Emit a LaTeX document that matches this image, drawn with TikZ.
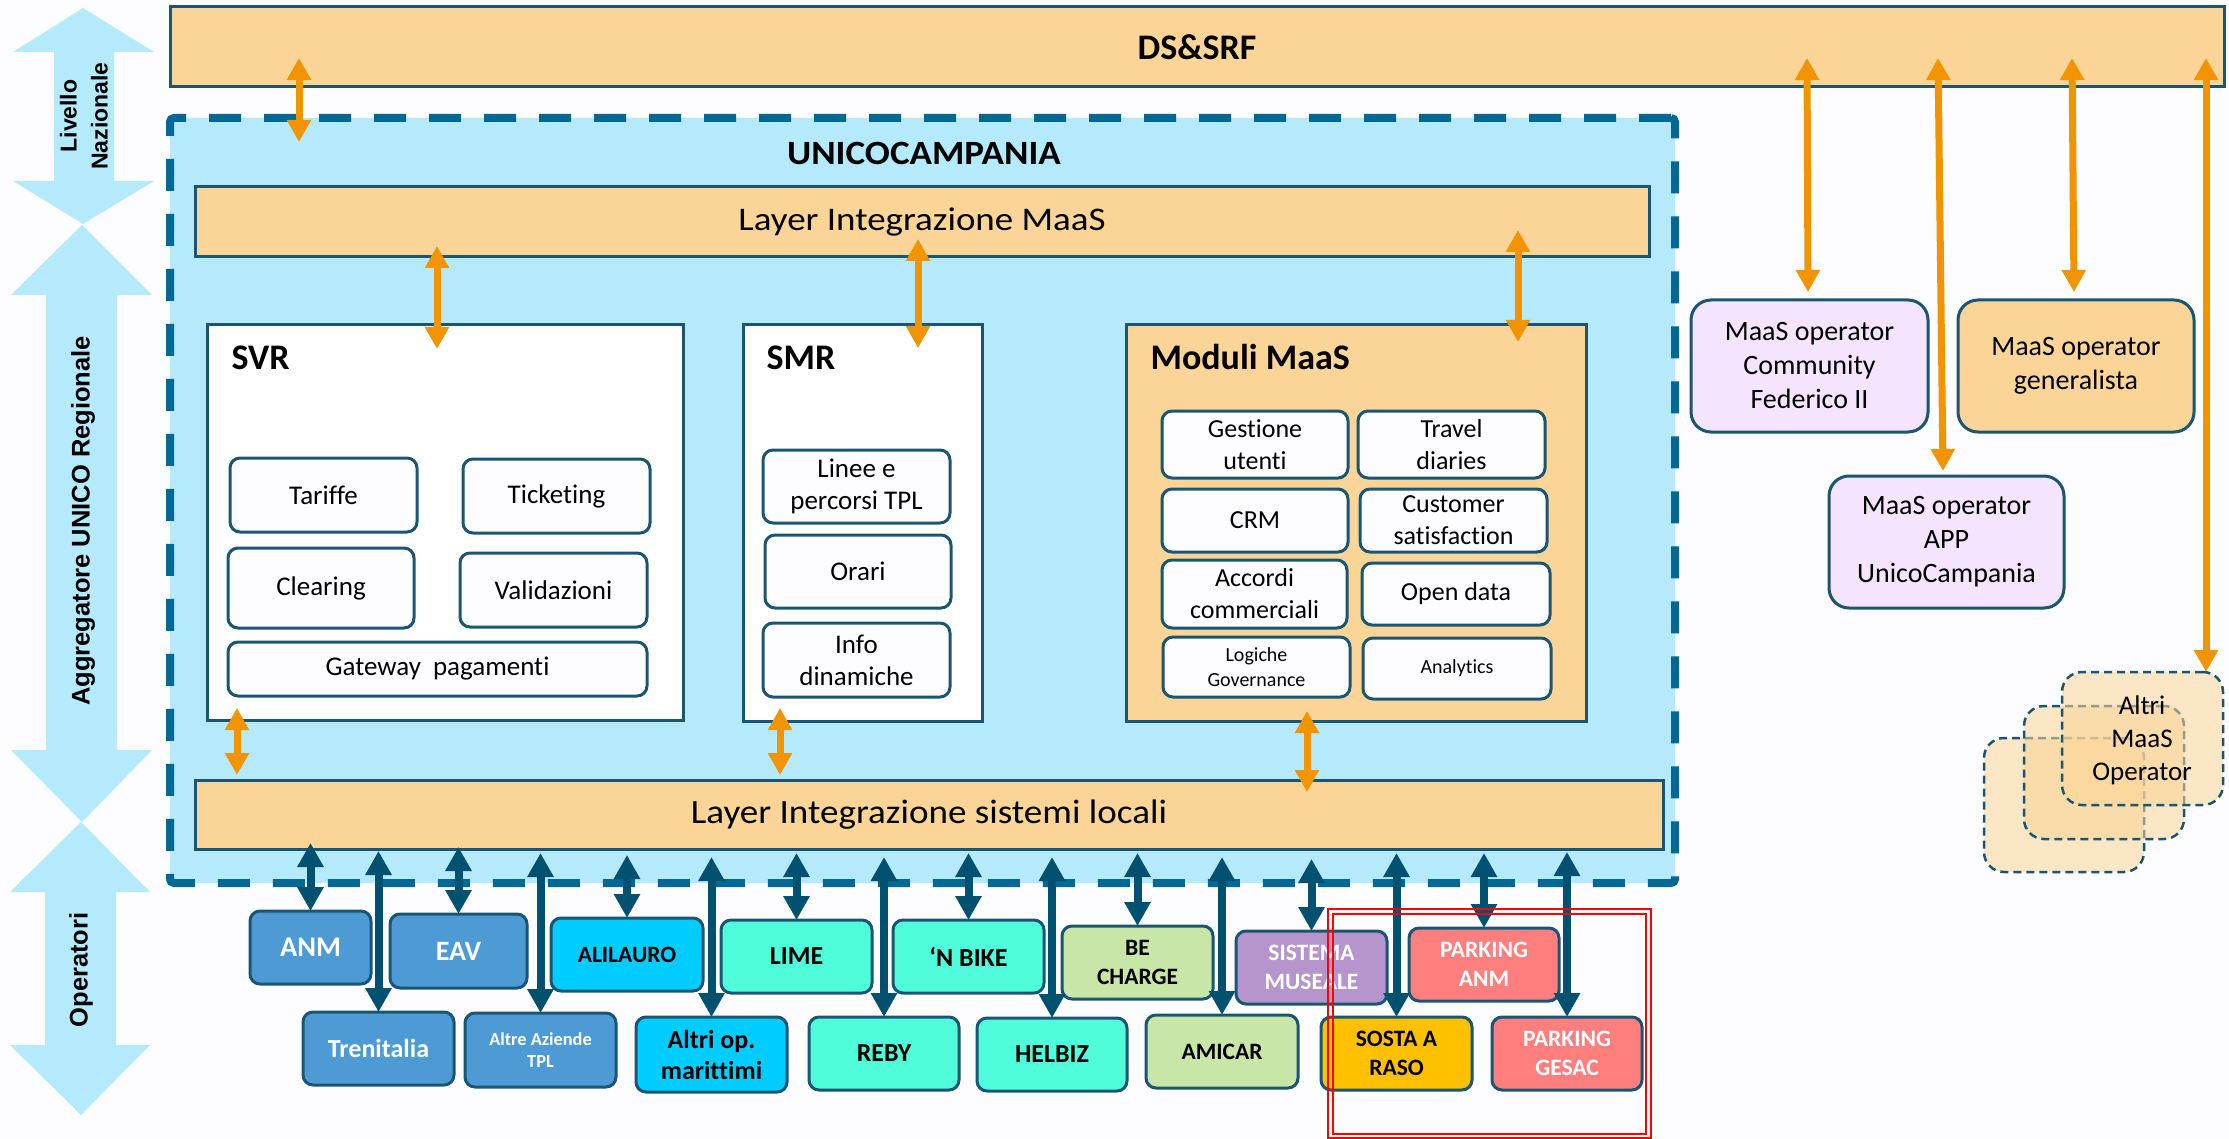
\documentclass[tikz,border=0pt]{standalone}
\usepackage{fontspec}
\setmainfont{Carlito}[RawFeature={-liga;-dlig;-clig}]
\newfontfamily\sidefont{Liberation Sans}
\usetikzlibrary{arrows.meta,calc}
\definecolor{bgc}{RGB}{253,252,255}
\definecolor{lblue}{RGB}{181,233,252}
\definecolor{beige}{RGB}{250,213,151}
\definecolor{bord}{RGB}{26,86,115}
\definecolor{dashc}{RGB}{0,104,146}
\definecolor{orng}{RGB}{242,148,0}
\definecolor{dblue}{RGB}{0,80,112}
\definecolor{opblue}{RGB}{78,154,212}
\definecolor{cyanop}{RGB}{0,204,255}
\definecolor{aqua}{RGB}{80,253,218}
\definecolor{lgreen}{RGB}{200,230,168}
\definecolor{lilac}{RGB}{181,149,204}
\definecolor{gold}{RGB}{255,192,0}
\definecolor{salmon}{RGB}{255,127,127}
\definecolor{lav}{RGB}{245,228,253}
\definecolor{boxw}{RGB}{253,252,255}
\newcommand\fs[2]{\fontsize{#1pt}{#2pt}\selectfont}
% name x1 y1 x2 y2 style text
\newcommand\bx[7]{%
  \pgfmathsetmacro\bxcx{(#2+#4)/2}%
  \pgfmathsetmacro\bxcy{(#3+#5)/2}%
  \pgfmathsetmacro\bxw{#4-#2}%
  \pgfmathsetmacro\bxh{#5-#3}%
  \node[#6, outer sep=0pt, minimum width=\bxw pt, minimum height=\bxh pt] (#1) at (\bxcx,\bxcy) {#7};}
% style x1 anchor1 dy1 x2 anchor2 dy2
\newcommand\vl[7]{\draw[#1] ($(#3 -| #2,0)+(0,#4)$) -- ($(#6 -| #5,0)+(0,#7)$);}
\tikzset{
  layerbox/.style={draw=bord, line width=3pt, fill=beige, inner sep=0pt, align=center},
  sysbox/.style={draw=bord, line width=3pt, fill=white, inner sep=0pt},
  modbox/.style={draw=bord, line width=3pt, fill=beige, inner sep=0pt},
  container/.style={draw=dashc, line width=8pt, dash pattern=on 32pt off 23pt, fill=lblue, rounded corners=4pt, inner sep=0pt},
  inbox/.style={draw=bord, line width=3pt, fill=boxw, rounded corners=10pt, inner sep=0pt, align=center, font=\fs{27}{32}},
  minbox/.style={inbox, font=\fs{26}{32}},
  sminbox/.style={inbox, font=\fs{20}{25}},
  opbox/.style={draw=bord, line width=3pt, rounded corners=10pt, inner sep=0pt, align=center, font=\bfseries\fs{23.5}{29}},
  maasop/.style={draw=bord, line width=3pt, rounded corners=20pt, inner sep=0pt, align=center, font=\fs{28}{34}},
  altribox/.style={draw=bord, line width=2.5pt, dash pattern=on 8pt off 5pt, rounded corners=20pt, fill=beige, fill opacity=0.55, draw opacity=1, inner sep=0pt},
  oarr/.style={orng, line width=7pt, {Triangle[width=23pt,length=22pt]}-{Triangle[width=23pt,length=22pt]}},
  barr/.style={dblue, line width=8pt, {Triangle[width=25pt,length=24pt]}-{Triangle[width=25pt,length=24pt]}},
  sidearrow/.style={fill=lblue, draw=none},
  sidelabel/.style={rotate=90, text=black, align=center},
  titletext/.style={anchor=base west, font=\bfseries\fs{36}{40}},
  redframe/.style={draw=red, line width=2pt}
}
\begin{document}
\begin{tikzpicture}[x=1pt, y=-1pt]
\useasboundingbox (0,0) rectangle (2229,1139);
\fill[bgc] (0,0) rectangle (2229,1139);

% side level arrows
\fill[sidearrow] (83,8) -- (154,52) -- (114,52) -- (114,181) -- (154,181) -- (83,224) -- (13,181) -- (54,181) -- (54,52) -- (13,52) -- cycle;
\fill[sidearrow] (82,225) -- (152,295) -- (117,295) -- (117,750) -- (152,750) -- (82,822) -- (11,750) -- (46,750) -- (46,295) -- (11,295) -- cycle;
\fill[sidearrow] (81,822) -- (150,892) -- (116,892) -- (116,1045) -- (150,1045) -- (81,1115) -- (10,1045) -- (45,1045) -- (45,892) -- (10,892) -- cycle;
\node[sidelabel, font=\sidefont\bfseries\fs{23}{31}] (livt) at (84,116) {Livello\\Nazionale};
\node[sidelabel, font=\sidefont\bfseries\fs{25.5}{30}] (aggt) at (83,521) {Aggregatore UNICO Regionale};
\node[sidelabel, font=\sidefont\bfseries\fs{25.5}{30}] (opt) at (81,970) {Operatori};

% national level
\bx{dssrf}{170}{7}{2224}{87}{layerbox, font=\bfseries\fs{36}{40}}{DS\&SRF}

% regional container
\bx{ucbox}{170}{118}{1675}{883}{container}{}
\node[font=\bfseries\fs{34}{40}] (uctitle) at (924,153) {\scalebox{1.09}[1]{UNICOCAMPANIA}};
\bx{layerM}{195}{187}{1649}{257}{layerbox, font=\fs{33}{40}}{\scalebox{1.12}[1]{Layer Integrazione MaaS}}
\bx{layerL}{195}{780}{1663}{849}{layerbox, font=\fs{34}{40}}{\scalebox{1.09}[1]{Layer Integrazione sistemi locali}}

% SVR
\bx{svr}{207}{325}{683}{720}{sysbox}{}
\node[titletext] (svrt) at (228,370) {SVR};
\bx{tariffe}{230}{458}{417}{532}{inbox}{Tariffe}
\bx{ticketing}{463}{459}{650}{533}{inbox}{Ticketing}
\bx{clearing}{228}{548}{414}{628}{inbox}{Clearing}
\bx{validazioni}{460}{553}{647}{627}{inbox}{Validazioni}
\bx{gateway}{228}{642}{647}{696}{inbox}{Gateway\hspace{12pt}pagamenti}

% SMR
\bx{smr}{743}{325}{982}{721}{sysbox}{}
\node[titletext] (smrt) at (763,370) {SMR};
\bx{linee}{763}{450}{950}{523}{inbox}{Linee e\\percorsi TPL}
\bx{orari}{765}{535}{951}{608}{inbox}{Orari}
\bx{info}{763}{623}{950}{697}{inbox}{Info\\dinamiche}

% Moduli MaaS
\bx{moduli}{1126}{325}{1586}{721}{modbox}{}
\node[titletext] (modt) at (1147,370) {Moduli MaaS};
\bx{gestione}{1162}{411}{1348}{478}{minbox}{Gestione\\utenti}
\bx{travel}{1358}{411}{1545}{478}{minbox}{Travel\\diaries}
\bx{crm}{1162}{489}{1348}{552}{minbox}{CRM}
\bx{customer}{1360}{489}{1547}{552}{minbox}{Customer\\satisfaction}
\bx{accordi}{1162}{560}{1347}{628}{minbox}{Accordi\\commerciali}
\bx{opendata}{1362}{563}{1550}{625}{minbox}{Open data}
\bx{logiche}{1163}{637}{1350}{697}{sminbox}{Logiche\\Governance}
\bx{analytics}{1363}{638}{1551}{699}{sminbox}{Analytics}

% MaaS operators (right)
\bx{fed}{1691}{300}{1928}{432}{maasop, fill=lav}{MaaS operator\\Community\\Federico II}
\bx{gen}{1958}{300}{2194}{432}{maasop, fill=beige}{MaaS operator\\generalista}
\bx{app}{1829}{476}{2064}{608}{maasop, fill=lav}{MaaS operator\\APP\\UnicoCampania}
\bx{altriC}{1984}{738}{2144}{872}{altribox}{}
\bx{altriB}{2024}{706}{2184}{839}{altribox}{}
\bx{altriA}{2062}{672}{2223}{805}{altribox}{}
\node[font=\fs{27}{33}, align=center] (altrit) at (2142,740) {Altri\\MaaS\\Operator};

% operators
\bx{anm}{250}{911}{371}{984}{opbox, fill=opblue, text=white, font=\bfseries\fs{28.5}{32}}{ANM}
\bx{tren}{303}{1012}{454}{1085}{opbox, fill=opblue, text=white, font=\bfseries\fs{26}{30}}{Trenitalia}
\bx{eav}{390}{914}{527}{988}{opbox, fill=opblue, text=white, font=\bfseries\fs{28}{32}}{EAV}
\bx{altre}{465}{1013}{616}{1087}{opbox, fill=opblue, text=white, font=\bfseries\fs{18.3}{22}}{Altre Aziende\\TPL}
\bx{alilauro}{551}{918}{703}{991}{opbox, fill=cyanop}{ALILAURO}
\bx{altriop}{636}{1017}{787}{1092}{opbox, fill=cyanop, font=\bfseries\fs{26}{31}}{Altri op.\\marittimi}
\bx{lime}{721}{920}{872}{993}{opbox, fill=aqua, font=\bfseries\fs{26}{30}}{LIME}
\bx{reby}{809}{1017}{959}{1090}{opbox, fill=aqua, font=\bfseries\fs{26}{30}}{REBY}
\bx{nbike}{893}{920}{1044}{993}{opbox, fill=aqua, font=\bfseries\fs{26}{30}}{‘N BIKE}
\bx{helbiz}{977}{1018}{1127}{1091}{opbox, fill=aqua, font=\bfseries\fs{26}{30}}{HELBIZ}
\bx{becharge}{1062}{926}{1213}{999}{opbox, fill=lgreen}{BE\\CHARGE}
\bx{amicar}{1146}{1015}{1298}{1088}{opbox, fill=lgreen}{AMICAR}
\bx{museale}{1236}{931}{1387}{1004}{opbox, fill=lilac, text=white}{SISTEMA\\MUSEALE}
\bx{sosta}{1321}{1017}{1472}{1090}{opbox, fill=gold}{SOSTA A\\RASO}
\bx{panm}{1409}{928}{1559}{1001}{opbox, fill=salmon, text=white}{PARKING\\ANM}
\bx{pgesac}{1492}{1017}{1642}{1090}{opbox, fill=salmon, text=white}{PARKING\\GESAC}

% orange connectors
\vl{oarr}{299}{dssrf.south}{-29}{299}{ucbox.north}{24}
\vl{oarr}{437}{layerM.south}{-11}{437}{svr.north}{24}
\vl{oarr}{918}{layerM.south}{-18}{918}{smr.north}{23}
\vl{oarr}{1518}{layerM.south}{-27}{1518}{moduli.north}{17}
\vl{oarr}{237}{svr.south}{-12}{237}{layerL.north}{-5}
\vl{oarr}{780}{smr.south}{-13}{780}{layerL.north}{-5}
\vl{oarr}{1307}{moduli.south}{-10}{1307}{layerL.north}{12}
\vl{oarr}{1807}{dssrf.south}{-29}{1808}{fed.north}{-8}
\vl{oarr}{1938}{dssrf.south}{-29}{1943}{app.north}{-5}
\vl{oarr}{2072}{dssrf.south}{-29}{2074}{gen.north}{-8}
\vl{oarr}{2206}{dssrf.south}{-29}{2206}{altriA.north}{0}

% operator connectors
\draw[barr] ($(layerL.south -| anm.north)+(0,-6)$) -- (anm.north);
\draw[barr] ($(layerL.south -| tren.north)+(0,2)$) -- (tren.north);
\draw[barr] ($(layerL.south -| eav.north)+(0,-2)$) -- (eav.north);
\draw[barr] ($(layerL.south -| altre.north)+(0,4)$) -- (altre.north);
\draw[barr] ($(layerL.south -| alilauro.north)+(0,6)$) -- (alilauro.north);
\draw[barr] ($(layerL.south -| altriop.north)+(0,8)$) -- (altriop.north);
\draw[barr] ($(layerL.south -| lime.north)+(0,4)$) -- (lime.north);
\draw[barr] ($(layerL.south -| reby.north)+(0,8)$) -- (reby.north);
\draw[barr] ($(layerL.south -| nbike.north)+(0,4)$) -- (nbike.north);
\draw[barr] ($(layerL.south -| helbiz.north)+(0,8)$) -- (helbiz.north);
\draw[barr] ($(layerL.south -| becharge.north)+(0,4)$) -- (becharge.north);
\draw[barr] ($(layerL.south -| amicar.north)+(0,8)$) -- (amicar.north);
\draw[barr] ($(layerL.south -| museale.north)+(0,10)$) -- (museale.north);
\draw[barr] ($(layerL.south -| sosta.north)+(0,4)$) -- (sosta.north);
\draw[barr] ($(layerL.south -| panm.north)+(0,4)$) -- (panm.north);
\draw[barr] ($(layerL.south -| pgesac.north)+(0,3)$) -- (pgesac.north);

% red highlight frame
\draw[redframe] (1328,909) rectangle (1651,1138);
\draw[redframe] (1333,914) rectangle (1646,1134);
\end{tikzpicture}
\end{document}
